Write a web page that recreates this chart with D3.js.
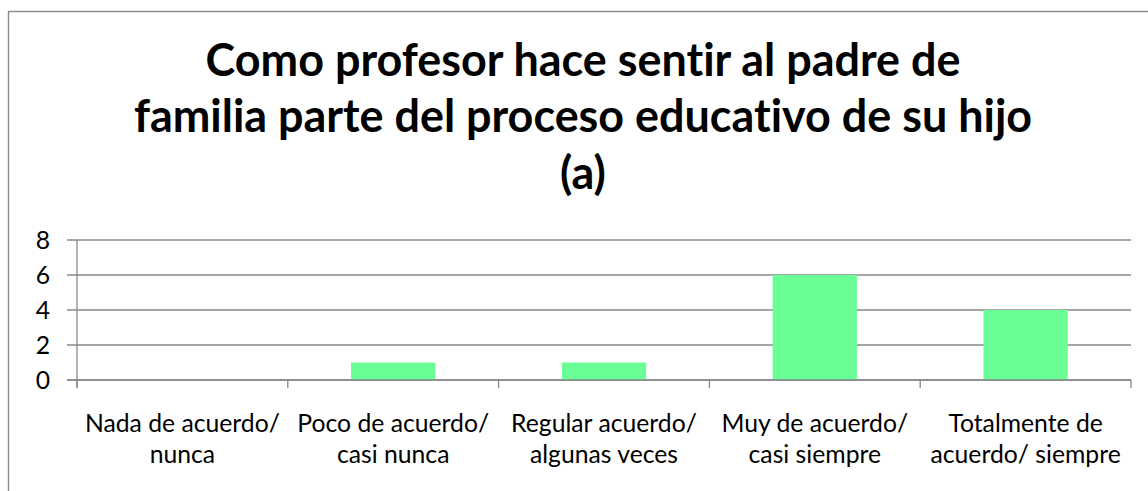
<!DOCTYPE html>
<html>
<head>
<meta charset="utf-8">
<script src="https://cdn.jsdelivr.net/npm/d3@7"></script>
<style>
html,body{margin:0;padding:0;background:#fff;overflow:hidden;}
svg{display:block;}
text{font-variant-ligatures:none;font-feature-settings:"liga" 0, "clig" 0;}
</style>
</head>
<body>
<svg id="chart" width="1148" height="491"></svg>
<script>
const titleLines = ["Como profesor hace sentir al padre de", "familia parte del proceso educativo de su hijo", "(a)"];
const categories = ["Nada de acuerdo/ nunca", "Poco de acuerdo/ casi nunca", "Regular acuerdo/ algunas veces", "Muy de acuerdo/ casi siempre", "Totalmente de acuerdo/ siempre"];
const categoryLines = [["Nada de acuerdo/", "nunca"], ["Poco de acuerdo/", "casi nunca"], ["Regular acuerdo/", "algunas veces"], ["Muy de acuerdo/", "casi siempre"], ["Totalmente de", "acuerdo/ siempre"]];
const values = [0, 1, 1, 6, 4];
const yTicks = [0, 2, 4, 6, 8];

const svg = d3.select("#chart");
const font = "Lato, 'Open Sans', sans-serif";
const gray = "#898989";

// outer border (cropped chart area)
svg.append("rect").attr("x", 8.5).attr("y", 11.5).attr("width", 1300).attr("height", 700)
  .attr("fill", "#fff").attr("stroke", gray).attr("stroke-width", 1.4);

const x0 = 77, x1 = 1131, yTop = 240, yBottom = 380;
const x = d3.scaleBand().domain(categories).range([x0, x1]).padding(0);
const y = d3.scaleLinear().domain([0, 8]).range([yBottom, yTop]);

// title
const cx = 583;
const title = svg.append("g").attr("font-family", font).attr("font-weight", "bold").attr("fill", "#000").attr("text-anchor", "middle");
const tBase = [76, 132, 189];
const tNodes = title.selectAll("text").data(titleLines).join("text")
  .attr("x", cx).attr("y", (d, i) => tBase[i]).attr("font-size", 40).text(d => d);
const w1 = tNodes.nodes()[0].getComputedTextLength();
const tSize = 40 * 755 / w1;
tNodes.attr("font-size", tSize);

// gridlines
const grid = svg.append("g");
grid.selectAll("line").data(yTicks).join("line")
  .attr("x1", x0 - 10).attr("x2", x1).attr("y1", d => y(d)).attr("y2", d => y(d))
  .attr("stroke", gray).attr("stroke-width", 1.3);

// bars
const barW = x.bandwidth() * 0.4;
svg.append("g").selectAll("rect").data(values).join("rect")
  .attr("x", (d, i) => x(categories[i]) + (x.bandwidth() - barW) / 2)
  .attr("width", barW)
  .attr("y", d => y(d))
  .attr("height", d => yBottom - y(d))
  .attr("fill", "#69FF96");

// y axis line
svg.append("line").attr("x1", x0).attr("x2", x0).attr("y1", yTop).attr("y2", yBottom + 8)
  .attr("stroke", gray).attr("stroke-width", 1.3);
// x axis baseline
svg.append("line").attr("x1", x0 - 10).attr("x2", x1).attr("y1", yBottom).attr("y2", yBottom)
  .attr("stroke", gray).attr("stroke-width", 1.3);
// x tick marks at category boundaries
const bounds = categories.map(c => x(c)).concat([x1]);
svg.append("g").selectAll("line").data(bounds).join("line")
  .attr("x1", d => d).attr("x2", d => d).attr("y1", yBottom).attr("y2", yBottom + 8)
  .attr("stroke", gray).attr("stroke-width", 1.3);

// label font fitting to the reference text width
const probe = svg.append("text").attr("font-family", font).attr("font-size", 24).text(categoryLines[0][0]);
const lw = probe.node().getComputedTextLength();
probe.remove();
const lSize = 24 * 195 / lw;

// y tick labels
svg.append("g").attr("font-family", font).attr("font-size", lSize).attr("fill", "#000").attr("text-anchor", "end")
  .selectAll("text").data(yTicks).join("text")
  .attr("x", 50).attr("y", d => y(d)).attr("dy", "0.36em").text(d => d);

// x labels
const xl = svg.append("g").attr("font-family", font).attr("font-size", lSize).attr("fill", "#000").attr("text-anchor", "middle");
categoryLines.forEach((lines, i) => {
  const cxc = x(categories[i]) + x.bandwidth() / 2;
  lines.forEach((t, j) => {
    xl.append("text").attr("x", cxc).attr("y", 432 + j * 31).text(t);
  });
});
</script>
</body>
</html>
